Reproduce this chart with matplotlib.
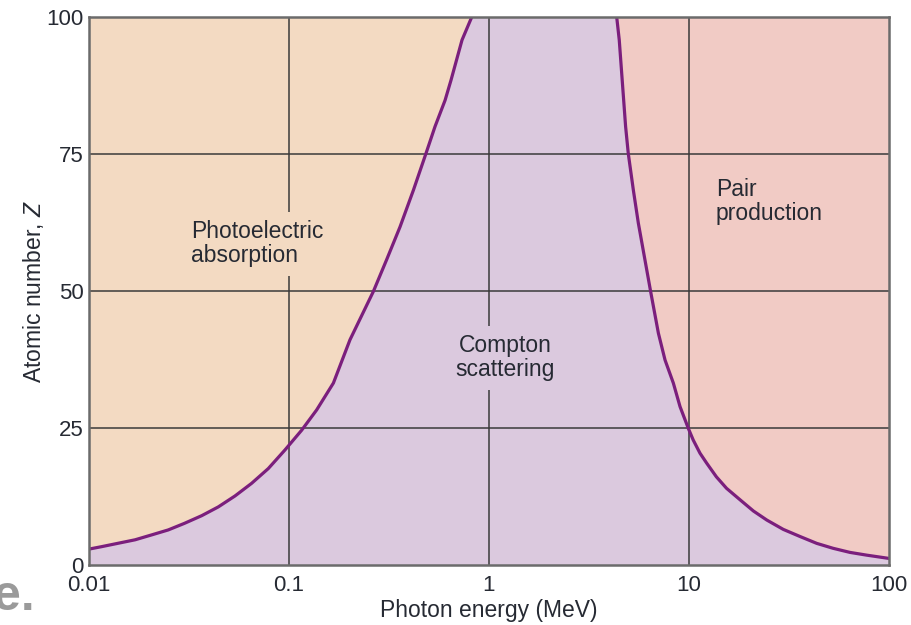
import matplotlib
matplotlib.use("Agg")
import matplotlib.pyplot as plt
import numpy as np

plt.rcParams['font.family'] = ['Liberation Sans', 'DejaVu Sans']
plt.rcParams['mathtext.fontset'] = 'custom'
plt.rcParams['mathtext.it'] = 'Liberation Sans:italic'
plt.rcParams['mathtext.rm'] = 'Liberation Sans'

# Photoelectric / Compton boundary (photon energy MeV, atomic number Z)
pe_energy = [0.01, 0.01157, 0.017, 0.0206, 0.0249, 0.030, 0.0366, 0.0443, 0.0537,
             0.065, 0.0788, 0.0955, 0.1157, 0.1375, 0.1667, 0.2018, 0.264, 0.3076,
             0.359, 0.4188, 0.484, 0.537, 0.603, 0.646, 0.733, 0.82]
pe_z = [2.9, 3.35, 4.6, 5.5, 6.4, 7.6, 9.0, 10.6, 12.6, 14.9, 17.6, 21.0, 24.6,
        28.3, 33.2, 41.1, 49.9, 55.7, 61.7, 68.4, 75.1, 80.0, 84.8, 88.5, 95.8, 100]

# Compton / pair production boundary
pp_energy = [4.35, 4.48, 4.82, 4.97, 5.27, 5.58, 6.43, 7.03, 7.59, 8.35,
             9.02, 9.93, 10.5, 11.35, 12.25, 13.7, 15.4, 18.0, 21.0, 24.5, 29.6,
             35.9, 43.5, 52.5, 63.8, 77.3, 100]
pp_z = [100, 95.8, 80.0, 75.1, 68.4, 62.4, 49.9, 42.3, 37.4, 33.2,
        28.9, 24.9, 22.8, 20.4, 18.6, 16.1, 14.0, 11.9, 9.85, 8.2, 6.5, 5.2, 3.95,
        3.05, 2.3, 1.8, 1.2]

x_ticks = [0.01, 0.1, 1, 10, 100]
x_ticklabels = ['0.01', '0.1', '1', '10', '100']
y_ticks = [0, 25, 50, 75, 100]

c_pe = '#f3dac2'
c_co = '#dbc9de'
c_pp = '#f1cbc5'
c_line = '#7b1f7d'
c_text = '#262a33'
c_grid = '#3a3a3a'

fig = plt.figure(figsize=(9.12, 6.25), dpi=100)
ax = fig.add_axes([89/912, 60/625, 800/912, 548/625])
ax.set_facecolor(c_co)
ax.set_xscale('log')
ax.set_xlim(0.01, 100)
ax.set_ylim(0, 100)

ax.fill_betweenx(pe_z, [0.01]*len(pe_z), pe_energy, color=c_pe, lw=0, zorder=1)
ax.fill_betweenx(pp_z, pp_energy, [100]*len(pp_z), color=c_pp, lw=0, zorder=1)

for xv in x_ticks[1:-1]:
    ax.axvline(xv, color=c_grid, lw=1.1, zorder=2)
for yv in y_ticks[1:-1]:
    ax.axhline(yv, color=c_grid, lw=1.1, zorder=2)

ax.plot(pe_energy, pe_z, color=c_line, lw=2.3, zorder=4, solid_joinstyle='round')
ax.plot(pp_energy, pp_z, color=c_line, lw=2.3, zorder=4, solid_joinstyle='round')

fs_lab = 16.5
ax.text(0.0324, 58.6, 'Photoelectric\nabsorption', ha='left', va='center',
        fontsize=fs_lab, color=c_text, linespacing=1.05, zorder=3,
        bbox=dict(facecolor=c_pe, edgecolor='none', pad=6))
ax.text(1.2, 37.8, 'Compton\nscattering', ha='center', va='center',
        multialignment='center', fontsize=fs_lab, color=c_text, linespacing=1.05,
        zorder=3, bbox=dict(facecolor=c_co, edgecolor='none', pad=6))
ax.text(13.6, 66.4, 'Pair\nproduction', ha='left', va='center',
        fontsize=fs_lab, color=c_text, linespacing=1.05, zorder=3,
        bbox=dict(facecolor=c_pp, edgecolor='none', pad=6))

ax.set_xticks(x_ticks)
ax.set_xticklabels(x_ticklabels)
ax.xaxis.set_minor_locator(matplotlib.ticker.NullLocator())
ax.set_yticks(y_ticks)
ax.tick_params(length=0, labelsize=16, colors=c_text)
ax.tick_params(axis='x', pad=7)
ax.tick_params(axis='y', pad=4)

for s in ax.spines.values():
    s.set_color('#6b6b6b')
    s.set_linewidth(1.8)
    s.set_zorder(5)

ax.set_xlabel('Photon energy (MeV)', fontsize=16.5, color=c_text, labelpad=2)
ax.set_ylabel('Atomic number, $Z$', fontsize=16.5, color=c_text, labelpad=0)

fig.text(-7/912, 1 - 610/625, 'e.', fontsize=36, fontweight='bold', color='#9a9a9a',
         ha='left', va='baseline')

fig.savefig('out.png', dpi=100)
